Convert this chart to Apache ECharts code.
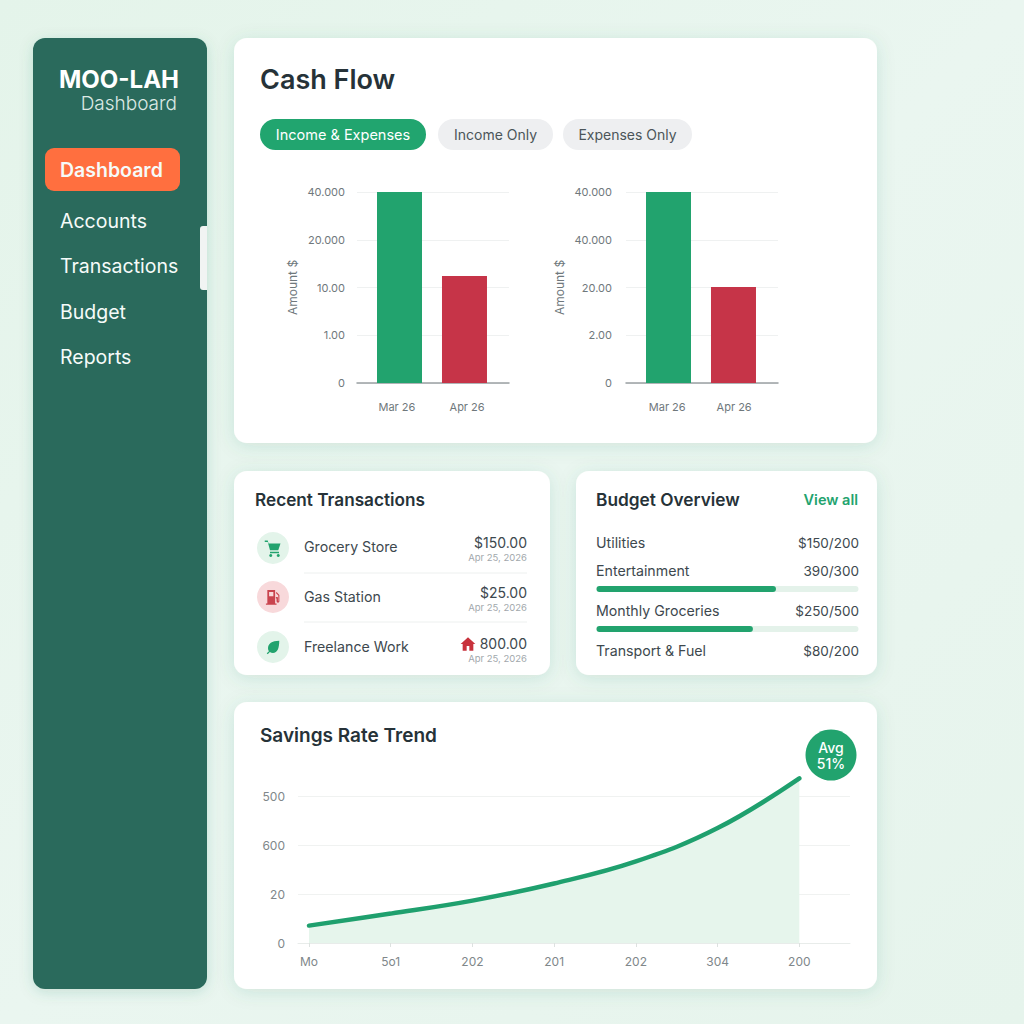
<!DOCTYPE html>
<title>moo-lah dashboard</title>
<style>
body {
    margin: 0;
}
#echart {
    height: 1024px;
    width: 1024px;
}
</style>
<div id='echart'></div>
<script src='https://cdn.jsdelivr.net/npm/echarts@6/dist/echarts.min.js'></script>
<script>
let FONT = 'Inter'
let GREEN = '#22a36e'
let RED = '#c63448'
let INK = '#263238'
let TEXT = '#3d484e'
let MUTED = '#6f787c'

// data
let months = ['Mar 26', 'Apr 26']
let cash_left = [40000, 22400]
let cash_right = [40000, 20100]
let ticks_left = ['0', '1.00', '10.00', '20.000', '40.000']
let ticks_right = ['0', '2.00', '20.00', '40.000', '40.000']
let nav_items = ['Dashboard', 'Accounts', 'Transactions', 'Budget', 'Reports']
let pills = ['Income & Expenses', 'Income Only', 'Expenses Only']
let tx_names = ['Grocery Store', 'Gas Station', 'Freelance Work']
let tx_amounts = ['$150.00', '$25.00', '800.00']
let tx_dates = ['Apr 25, 2026', 'Apr 25, 2026', 'Apr 25, 2026']
let budget_names = ['Utilities', 'Entertainment', 'Monthly Groceries', 'Transport & Fuel']
let budget_amounts = ['$150/200', '390/300', '$250/500', '$80/200']
let budget_bar_names = ['Entertainment', 'Monthly Groceries']
let budget_fill = [68.5, 59.7]
let trend_x = [0, 1, 2, 3, 4, 5, 6]
let trend_y = [71, 120, 173, 243, 333, 469, 672]
let trend_x_ticks = ['Mo', '5o1', '202', '201', '202', '304', '200']
let trend_y_ticks = ['0', '20', '600', '500']

let ICON_CART = 'M1 2h4l1 4h16l-3 9H8L5 4H1z M8 17h12v2H8z M9 20a2 2 0 1 0 .01 0z M19 20a2 2 0 1 0 .01 0z'
let ICON_PUMP = 'M4 2h11v19h2v2H2v-2h2z M6.5 5v6h6V5z M17 5l4 4v9a2 2 0 0 1-4 0v-4h-1v-2h2a1 1 0 0 1 1 1v5h.5V10l-3.5-3.5z'
let ICON_LEAF = 'M22 2C10 2 4 7 4 14c0 2 .6 3.5 1.5 4.8L2 22l1.5 1.5 3.5-3.5C8.5 21 10 21.5 12 21.5 19 21.5 22 14 22 2z'
let ICON_HOUSE = 'M12 2L1 12h3v10h6v-7h4v7h6V12h3z'

function text(x, y, value, size, color, extra) {
    return {
        type: 'text', x, y, z: 50,
        style: {text: value, font: `${(extra && extra.weight) || 400} ${size}px ${FONT}`, fill: color,
            align: (extra && extra.align) || 'left', verticalAlign: 'middle', lineHeight: extra && extra.lineHeight},
    }
}
function card(x, y, width, height) {
    return {
        type: 'rect', z: -10, shape: {x, y, width, height, r: 13},
        style: {fill: '#fff', shadowBlur: 18, shadowOffsetY: 3, shadowColor: 'rgba(50,120,90,0.14)'},
    }
}
function icon(path, cx, cy, size, color) {
    let svg = `<svg xmlns="http://www.w3.org/2000/svg" viewBox="0 0 24 24"><path fill="${color}" fill-rule="evenodd" d="${path}"/></svg>`
    return {
        type: 'image', z: 50,
        style: {image: 'data:image/svg+xml,' + encodeURIComponent(svg), x: cx - size / 2, y: cy - size / 2, width: size, height: size},
    }
}
function pill(x, y, width, height, color) {
    return {type: 'rect', z: 40, shape: {x, y, width, height, r: height / 2}, style: {fill: color}}
}

let elements = [
    {type: 'rect', z: -10, shape: {x: 33, y: 38, width: 174, height: 951, r: 12},
        style: {fill: '#2a6b5c', shadowBlur: 14, shadowOffsetY: 3, shadowColor: 'rgba(50,120,90,0.18)'}},
    {type: 'rect', z: -9, shape: {x: 200, y: 226, width: 7, height: 64, r: [3, 0, 0, 3]}, style: {fill: '#f1f4f3'}},
    card(234, 38, 643, 405),
    card(234, 471, 316, 204),
    card(576, 471, 301, 204),
    card(234, 702, 643, 287),

    text(59, 79, 'MOO-LAH', 24, '#fff', {weight: 700}),
    text(177, 103, 'Dashboard', 19, '#dce9e5', {align: 'right', weight: 300}),
    {type: 'rect', z: 40, shape: {x: 45, y: 148, width: 135, height: 43, r: 9}, style: {fill: '#ff6f3f'}},

    text(260, 79, 'Cash Flow', 27, INK, {weight: 600}),
    pill(260, 119, 166, 31, '#21a56f'),
    pill(438, 119, 115, 31, '#eeeff1'),
    pill(563, 119, 129, 31, '#eeeff1'),

    text(255, 499, 'Recent Transactions', 17.2, INK, {weight: 600}),
    text(596, 499, 'Budget Overview', 17.3, INK, {weight: 600}),
    text(858, 499, 'View all', 14.5, GREEN, {align: 'right', weight: 600}),
    {type: 'circle', z: 40, shape: {cx: 273, cy: 548, r: 16}, style: {fill: '#e3f4ea'}},
    {type: 'circle', z: 40, shape: {cx: 273, cy: 597, r: 16}, style: {fill: '#f8d9db'}},
    {type: 'circle', z: 40, shape: {cx: 273, cy: 647, r: 16}, style: {fill: '#e3f4ea'}},
    icon(ICON_CART, 273, 548, 18, GREEN),
    icon(ICON_PUMP, 273, 597, 17, '#c9444e'),
    icon(ICON_LEAF, 273, 647, 15, GREEN),
    icon(ICON_HOUSE, 468, 644, 16, '#c8323c'),
    {type: 'line', z: 40, shape: {x1: 304, y1: 573, x2: 527, y2: 573}, style: {stroke: '#edf0ef', lineWidth: 1}},
    {type: 'line', z: 40, shape: {x1: 304, y1: 622, x2: 527, y2: 622}, style: {stroke: '#edf0ef', lineWidth: 1}},

    text(260, 735, 'Savings Rate Trend', 19, INK, {weight: 600}),
    {type: 'circle', z: 40, shape: {cx: 831, cy: 755, r: 25.5}, style: {fill: '#22a36e'}},
    text(831, 755, 'Avg\n51%', 14, '#fff', {align: 'center', weight: 500, lineHeight: 16}),
]
let nav_y = [170, 221, 266, 312, 357]
nav_items.forEach((name, i) => elements.push(text(60, nav_y[i], name, 19.5, '#f6fbf9', {weight: i == 0 ? 600 : 400})))
let pill_x = [343, 495.5, 627.5]
pills.forEach((name, i) => elements.push(text(pill_x[i], 134, name, i == 0 ? 14.5 : 14, i == 0 ? '#fff' : '#4b5559', {align: 'center'})))
let tx_y = [546.5, 596.5, 646.5]
let amount_y = [542.5, 592.5, 643.5]
let date_y = [557.5, 607.5, 658.5]
tx_names.forEach((name, i) => {
    elements.push(text(304, tx_y[i], name, 14.2, TEXT))
    elements.push(text(527, amount_y[i], tx_amounts[i], 14, TEXT, {align: 'right'}))
    elements.push(text(527, date_y[i], tx_dates[i], 9.5, '#a2a8ac', {align: 'right'}))
})
let budget_y = [542.5, 570.5, 610.5, 650.5]
budget_names.forEach((name, i) => {
    elements.push(text(596, budget_y[i], name, 14.2, TEXT))
    elements.push(text(859, budget_y[i], budget_amounts[i], 13.5, TEXT, {align: 'right'}))
})

function cash_axes(index, left, labels, label_at, label_margin) {
    return {
        grid: {left, top: 192, width: 152, height: 191},
        xAxis: {
            type: 'value', gridIndex: index, min: 0.346, max: 2.685,
            splitLine: {show: false},
            axisLine: {show: true, onZero: false, lineStyle: {color: '#9aa0a2', width: 1.5}},
            axisTick: {show: false},
            axisLabel: {customValues: label_at, formatter: v => months[Math.round(v) - 1], margin: 14, fontFamily: FONT, fontSize: 11, color: MUTED},
        },
        yAxis: {
            type: 'value', gridIndex: index, min: 0, max: 40000, interval: 10000,
            name: 'Amount $', nameLocation: 'middle', nameGap: 54, nameRotate: 90,
            nameTextStyle: {fontFamily: FONT, fontSize: 12, color: MUTED},
            axisLine: {show: false}, axisTick: {show: false},
            splitLine: {lineStyle: {color: '#eff1f1'}},
            axisLabel: {formatter: v => labels[v / 10000], margin: label_margin, fontFamily: FONT, fontSize: 11, color: MUTED},
        },
    }
}
function cash_series(index, values) {
    return {
        type: 'bar', xAxisIndex: index, yAxisIndex: index, barWidth: 45, silent: true,
        data: values.map((v, i) => ({value: [i + 1, v], itemStyle: {color: i == 0 ? GREEN : RED}})),
    }
}
let left_axes = cash_axes(0, 357, ticks_left, [0.96, 2.04], 12)
let right_axes = cash_axes(1, 626, ticks_right, [0.98, 2.01], 14)

let option = {
    animation: false,
    backgroundColor: {type: 'linear', x: 0, y: 0, x2: 1, y2: 1, colorStops: [
        {offset: 0, color: '#e4f4ea'}, {offset: 0.5, color: '#eaf6f0'}, {offset: 1, color: '#e6f4ec'},
    ]},
    graphic: {elements},
    grid: [
        left_axes.grid,
        right_axes.grid,
        {left: 298, top: 747, width: 552, height: 196},
        {left: 596.5, top: 569, width: 262, height: 80},
    ],
    xAxis: [
        left_axes.xAxis,
        right_axes.xAxis,
        {
            type: 'value', gridIndex: 2, min: -0.135, max: 6.62,
            splitLine: {show: false},
            axisLine: {show: true, onZero: false, lineStyle: {color: '#e8ecea'}},
            axisTick: {customValues: [0, 1, 2, 3, 4, 5, 6], length: 4, lineStyle: {color: '#dde2e0'}},
            axisLabel: {customValues: [0, 1, 2, 3, 4, 5, 6], formatter: v => trend_x_ticks[v], margin: 8, fontFamily: FONT, fontSize: 12, color: '#80878a'},
        },
        {type: 'value', gridIndex: 3, min: 0, max: 100, show: false},
    ],
    yAxis: [
        left_axes.yAxis,
        right_axes.yAxis,
        {
            type: 'value', gridIndex: 2, min: 0, max: 800, interval: 200,
            axisLine: {show: false}, axisTick: {show: false},
            splitLine: {showMaxLine: false, lineStyle: {color: '#f0f2f1'}},
            axisLabel: {showMaxLabel: false, formatter: v => trend_y_ticks[v / 200], margin: 13, fontFamily: FONT, fontSize: 12, color: '#80878a'},
        },
        {type: 'category', gridIndex: 3, inverse: true, data: budget_bar_names, show: false},
    ],
    series: [
        cash_series(0, cash_left),
        cash_series(1, cash_right),
        {
            type: 'line', xAxisIndex: 2, yAxisIndex: 2, smooth: 0.4, showSymbol: false, silent: true,
            data: trend_x.map((x, i) => [x, trend_y[i]]),
            lineStyle: {color: '#1fa06e', width: 4.5, cap: 'round'},
            areaStyle: {color: '#e6f5ec', opacity: 1},
        },
        {
            type: 'bar', xAxisIndex: 3, yAxisIndex: 3, barWidth: 6, silent: true, data: budget_fill,
            itemStyle: {color: GREEN, borderRadius: 3},
            showBackground: true, backgroundStyle: {color: '#e4f2ea', borderRadius: 3},
        },
    ],
}
let echart = echarts.init(document.querySelector('#echart'), null, {renderer: 'svg'})
echart.setOption(option)
addEventListener('resize', function (event) {echart.resize()})
</script>
